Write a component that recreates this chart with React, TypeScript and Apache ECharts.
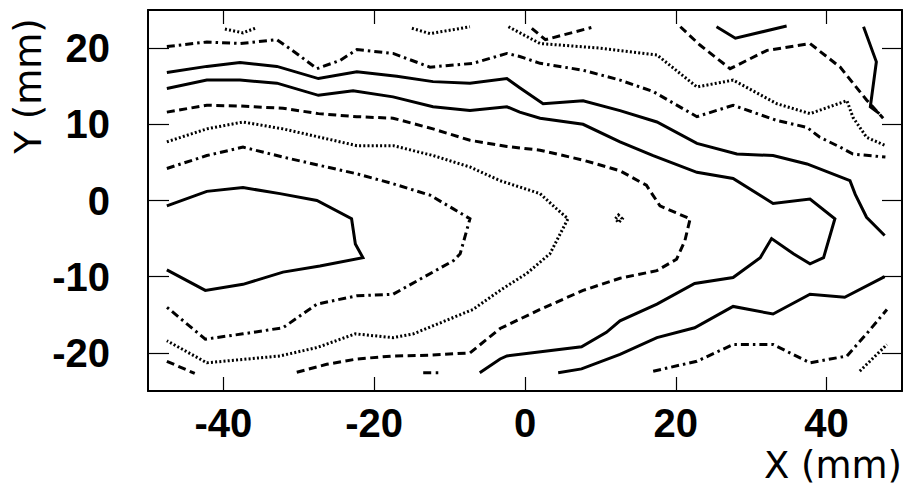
import React, { useEffect, useRef } from "react";
import * as echarts from "echarts";

// Axis ranges and tick positions (mm)
const xTicks = [-40, -20, 0, 20, 40];
const yTicks = [-20, -10, 0, 10, 20];

// Contour lines, [x, y] in mm, grouped by line style
const solidUpper = [[-47.5,16.8],[-42.2,17.6],[-37.8,18.1],[-32.9,17.6],[-27.4,16.0],[-22.3,16.9],[-17.0,16.3],[-12.2,15.6],[-7.3,15.4],[-2.4,16.0],[-0.7,14.8],[2.4,12.7],[7.7,13.1],[12.6,11.8],[17.5,10.3],[22.8,7.5],[28.1,6.1],[32.9,5.9],[37.4,4.8],[43.1,2.6],[43.8,0.8],[45.3,-2.2],[47.7,-4.6]];
const solidMiddle = [[-47.5,14.7],[-42.2,15.8],[-37.8,15.8],[-32.9,15.4],[-27.4,13.8],[-22.8,14.4],[-17.5,13.6],[-12.2,12.3],[-7.3,11.8],[-2.4,12.3],[-0.7,11.6],[2.0,10.8],[7.7,10.0],[12.6,7.7],[17.0,5.9],[22.8,3.7],[27.6,2.9],[32.9,-0.4],[37.8,0.2],[41.1,-2.4],[39.6,-7.5],[37.8,-8.3],[35.6,-7.0],[32.7,-5.0],[31.2,-7.5],[27.6,-10.1],[22.5,-10.9],[17.5,-13.6],[12.6,-15.8],[10.8,-17.3],[7.5,-19.2],[-2.4,-20.4],[-3.3,-20.8],[-6.0,-22.6]];
const solidLower = [[4.4,-22.6],[7.5,-22.1],[12.6,-20.2],[17.5,-18.0],[22.5,-16.7],[27.6,-13.9],[32.9,-14.9],[37.8,-12.3],[42.4,-12.7],[47.7,-10.0]];
const solidLeftLoop = [[-47.5,-0.7],[-42.2,1.2],[-37.4,1.7],[-32.5,0.9],[-27.6,0.0],[-23.0,-2.4],[-22.5,-5.7],[-21.5,-7.5],[-27.2,-8.6],[-32.1,-9.4],[-37.4,-11.0],[-42.4,-11.8],[-47.5,-9.1]];
const solidTopV = [[25.4,22.8],[27.9,21.3],[34.7,22.9]];
const solidTopRight = [[44.9,22.8],[46.6,18.2],[45.8,12.3],[47.0,11.4]];

const dashedUpper = [[-47.5,11.6],[-42.2,12.5],[-37.8,12.4],[-32.1,12.1],[-27.4,11.4],[-22.3,11.0],[-17.5,10.8],[-12.2,9.4],[-7.3,7.9],[-2.4,7.1],[2.0,6.6],[7.7,5.3],[12.6,3.9],[16.1,2.0],[17.9,-0.7],[20.0,-1.6],[21.9,-2.4],[21.2,-5.3],[20.1,-7.7],[17.5,-9.2],[12.6,-10.2],[7.7,-11.8],[2.0,-14.3],[-3.3,-16.8],[-7.3,-20.0],[-12.6,-20.3],[-17.5,-20.4],[-22.3,-20.8],[-26.3,-21.5],[-30.5,-22.6]];
const dashedBottomLeft = [[-47.5,-21.1],[-43.8,-22.7]];
const dashedBottomMid = [[-13.5,-22.6],[-11.5,-22.6]];
const dashedTopV = [[0.9,22.6],[2.7,21.1],[8.8,22.7]];
const dashedTopRight = [[20.6,22.8],[23.2,20.4],[27.2,17.3],[32.1,19.7],[37.8,20.6],[41.8,17.5],[43.5,15.4],[45.3,13.2],[47.5,10.8]];

const dottedTopLeft = [[-39.8,22.5],[-37.4,22.0],[-35.8,22.6]];
const dottedTopMid = [[-15.0,22.6],[-12.6,21.9],[-7.3,22.8]];
const dottedUpperRight = [[-2.2,22.8],[2.0,20.6],[9.9,20.0],[17.5,19.1],[22.8,14.9],[27.6,15.8],[33.4,12.7],[37.8,11.4],[42.7,13.1],[43.5,10.9],[45.3,8.3],[47.8,7.2]];
const dottedLoop = [[-47.5,7.7],[-42.2,9.4],[-37.4,10.3],[-32.1,9.4],[-27.2,8.3],[-22.3,7.2],[-17.5,7.2],[-12.2,5.9],[-7.3,4.4],[-3.3,2.6],[2.0,0.9],[4.2,-1.1],[5.7,-2.4],[3.3,-7.0],[0.2,-9.6],[-3.3,-11.8],[-6.9,-14.3],[-14.8,-17.5],[-17.5,-18.0],[-22.5,-17.5],[-27.6,-19.3],[-32.5,-20.4],[-42.2,-21.3],[-47.5,-18.4]];
const dottedBottomRight = [[44.4,-22.4],[48.0,-18.9]];
const dottedIsland = [[12.0,-2.4],[12.4,-1.9],[12.9,-2.4],[12.4,-2.9],[12.0,-2.4]];

const dashDotUpper = [[-47.5,20.2],[-42.2,20.8],[-37.8,20.6],[-32.9,21.1],[-30.3,19.3],[-27.6,17.3],[-24.5,18.4],[-22.3,19.8],[-17.5,19.3],[-12.6,17.5],[-6.9,18.0],[-2.4,19.3],[-0.7,18.9],[2.0,18.0],[7.7,17.1],[12.6,15.8],[17.0,14.3],[22.8,11.0],[27.6,12.5],[33.4,10.5],[37.4,9.6],[39.1,8.3],[41.8,7.0],[43.5,6.1],[47.8,5.7]];
const dashDotLower = [[-47.5,4.2],[-42.2,5.9],[-37.4,7.0],[-32.1,5.7],[-27.2,4.6],[-22.3,3.5],[-17.5,2.2],[-12.6,0.7],[-9.5,-1.1],[-7.3,-2.4],[-8.6,-7.0],[-9.5,-7.9],[-13.5,-10.1],[-17.5,-12.3],[-22.3,-12.5],[-27.6,-13.6],[-32.1,-16.7],[-37.4,-17.5],[-42.4,-18.2],[-47.5,-14.0]];
const dashDotBottomRight = [[17.0,-22.4],[22.8,-21.1],[27.6,-18.9],[32.9,-18.9],[37.8,-21.3],[42.7,-20.4],[45.3,-17.5],[48.0,-14.3]];

const DASH: Record<string, any> = {
  solid: "solid",
  dashed: [8, 4.5],
  dotted: [2, 2.2],
  dashdot: [8, 4, 2.5, 4],
};

const contours: [string, number[][]][] = [
  ["solid", solidUpper], ["solid", solidMiddle], ["solid", solidLower],
  ["solid", solidLeftLoop], ["solid", solidTopV], ["solid", solidTopRight],
  ["dashed", dashedUpper], ["dashed", dashedBottomLeft], ["dashed", dashedBottomMid],
  ["dashed", dashedTopV], ["dashed", dashedTopRight],
  ["dotted", dottedTopLeft], ["dotted", dottedTopMid], ["dotted", dottedUpperRight],
  ["dotted", dottedLoop], ["dotted", dottedBottomRight], ["dotted", dottedIsland],
  ["dashdot", dashDotUpper], ["dashdot", dashDotLower], ["dashdot", dashDotBottomRight],
];

const frame = { show: true, onZero: false, lineStyle: { color: "#000", width: 2 } };
const tickFont = { fontFamily: "Liberation Sans", fontWeight: "bold" as const, fontSize: 40, color: "#000" };
const titleFont = { fontFamily: "DejaVu Sans", fontSize: 37, fill: "#000" };

export default function App() {
  const ref = useRef<HTMLDivElement>(null);

  useEffect(() => {
    if (!ref.current) return;
    const chart = echarts.init(ref.current, undefined, { renderer: "svg" });
    const xBase = { type: "value", min: -50, max: 50, splitLine: { show: false }, axisLine: frame };
    const yBase = { type: "value", min: -25, max: 25, splitLine: { show: false }, axisLine: frame };
    chart.setOption({
      animation: false,
      backgroundColor: "#fff",
      grid: { left: 148, right: 2, top: 10, bottom: 100 },
      xAxis: [
        {
          ...xBase, position: "bottom",
          axisTick: { inside: true, length: 14, customValues: xTicks, lineStyle: { color: "#000", width: 1.2 } },
          axisLabel: { customValues: xTicks, margin: 12, ...tickFont },
        },
        {
          ...xBase, position: "top",
          axisTick: { inside: true, length: 14, customValues: xTicks, lineStyle: { color: "#000", width: 1.2 } },
          axisLabel: { show: false },
        },
      ],
      yAxis: [
        {
          ...yBase, position: "left",
          axisTick: { inside: true, length: 21, customValues: yTicks, lineStyle: { color: "#000", width: 1.2 } },
          axisLabel: { customValues: yTicks, margin: 38, ...tickFont },
        },
        {
          ...yBase, position: "right",
          axisTick: { inside: true, length: 20, customValues: yTicks, lineStyle: { color: "#000", width: 1.2 } },
          axisLabel: { show: false },
        },
      ],
      graphic: [
        {
          type: "text", x: 902, y: 465.5,
          style: { text: "X (mm)", ...titleFont, align: "right", verticalAlign: "middle" },
        },
        {
          type: "text", x: 28.5, y: 86, rotation: Math.PI / 2,
          style: { text: "Y (mm)", ...titleFont, align: "center", verticalAlign: "middle" },
        },
      ],
      series: contours.map(([style, pts]) => ({
        type: "line",
        xAxisIndex: 0,
        yAxisIndex: 0,
        data: pts,
        showSymbol: false,
        silent: true,
        lineStyle: { color: "#000", width: 3, type: DASH[style], cap: "butt", join: "miter" },
      })),
    });
    return () => chart.dispose();
  }, []);

  return (
    <div
      ref={ref}
      style={{ position: "fixed", left: 0, top: 0, width: 904, height: 491, background: "#fff" }}
    />
  );
}
